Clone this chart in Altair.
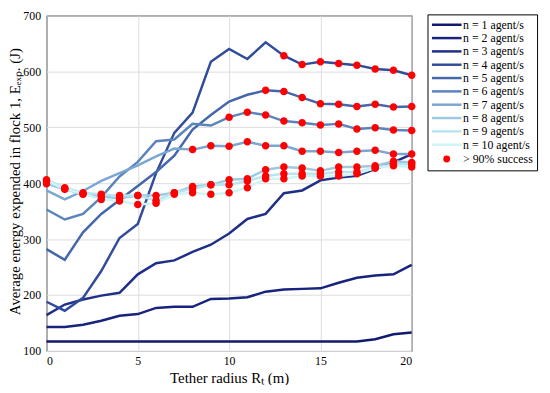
import altair as alt
import pandas as pd

FONT = "Liberation Serif"

radius = [0, 1, 2, 3, 4, 5, 6, 7, 8, 9, 10, 11, 12, 13, 14, 15, 16, 17, 18, 19, 20]

series_names = ["n = 1 agent/s", "n = 2 agent/s", "n = 3 agent/s", "n = 4 agent/s",
                "n = 5 agent/s", "n = 6 agent/s", "n = 7 agent/s", "n = 8 agent/s",
                "n = 9 agent/s", "n = 10 agent/s"]

e_n1 = [117, 117, 117, 117, 117, 117, 117, 117, 117, 117, 117, 117, 117, 117, 117, 117, 117, 117, 121, 130, 133]
e_n2 = [143, 143, 147, 154, 163, 166, 177, 179, 179, 193, 194, 196, 206, 210, 211, 212, 222, 231, 235, 237, 254]
e_n3 = [164, 183, 192, 199, 204, 237, 257, 262, 277, 290, 310, 336, 345, 382, 387, 405, 410, 413, 425, 437, 452]
e_n4 = [188, 172, 195, 243, 302, 327, 418, 490, 526, 617, 640, 622, 652, 628, 612, 617, 614, 611, 604, 602, 593]
e_n5 = [282, 263, 312, 345, 370, 395, 420, 449, 496, 522, 546, 558, 566, 564, 553, 542, 541, 537, 541, 536, 537]
e_n6 = [353, 335, 345, 375, 412, 438, 475, 478, 506, 503, 518, 527, 522, 511, 508, 504, 506, 497, 499, 495, 494]
e_n7 = [387, 371, 386, 404, 418, 432, 448, 462, 460, 467, 466, 474, 467, 467, 457, 457, 455, 457, 459, 452, 452]
e_n8 = [399, 389, 380, 376, 373, 378, 378, 383, 394, 397, 406, 408, 424, 429, 427, 422, 429, 429, 431, 439, 437]
e_n9 = [406, 392, 383, 380, 378, 378, 369, 383, 390, 397, 397, 404, 413, 417, 417, 417, 420, 420, 427, 434, 434]
e_n10 = [404, 390, 381, 371, 368, 362, 364, 380, 383, 380, 383, 392, 408, 408, 413, 413, 413, 417, 427, 431, 429]

energy = [e_n1, e_n2, e_n3, e_n4, e_n5, e_n6, e_n7, e_n8, e_n9, e_n10]

# first tether radius index at which success rate exceeds 90% (None = never)
success_from = [None, None, None, 13, 12, 10, 8, 0, 0, 0]

dot_label = "> 90% success"

line_colors = ["#111a6e", "#17237c", "#1f2f88", "#314c9a", "#4466aa", "#5b84bd",
               "#7ba6d2", "#9dcae3", "#b8e5ef", "#cdf5f7"]
dot_color = "#ff0000"

line_rows = []
dot_rows = []
for name, vals, start in zip(series_names, energy, success_from):
    for r, v in zip(radius, vals):
        line_rows.append({"R": r, "E": v, "series": name})
        if start is not None and r >= start:
            dot_rows.append({"R": r, "E": v, "series": dot_label})

lines_df = pd.DataFrame(line_rows)
dots_df = pd.DataFrame(dot_rows)

domain = series_names + [dot_label]
color_scale = alt.Scale(domain=domain, range=line_colors + [dot_color])
line_path = "M-3,0H3"
dot_path = "M0.45,0A0.45,0.45,0,1,1,-0.45,0A0.45,0.45,0,1,1,0.45,0Z"
shape_scale = alt.Scale(domain=domain, range=[line_path] * 10 + [dot_path])

legend = alt.Legend(
    title=None, orient="none", legendX=386, legendY=-1,
    strokeColor="black", fillColor="white", padding=4, cornerRadius=0,
    labelFont=FONT, labelFontSize=12, labelColor="black",
    symbolSize=100, symbolStrokeWidth=2.5, rowPadding=0.5,
    symbolOffset=9, labelOffset=10, symbolOpacity=1,
)

x_enc = alt.X(
    "R:Q",
    scale=alt.Scale(domain=[0, 20], nice=False, zero=False),
    axis=alt.Axis(values=[0, 5, 10, 15, 20], title="Tether radius Rₜ (m)",
                  titleX=185, titleY=32, titleBaseline="alphabetic",
                  labelPadding=5, format="d"),
)
y_enc = alt.Y(
    "E:Q",
    scale=alt.Scale(domain=[100, 700], nice=False, zero=False),
    axis=alt.Axis(values=[100, 200, 300, 400, 500, 600, 700],
                  title="Average energy expended in flock 1, Eₑₓₚ. (J)",
                  titleX=-27, titleY=168, titleBaseline="alphabetic",
                  labelPadding=6, format="d"),
)

lines = alt.Chart(lines_df).mark_line(strokeWidth=2.5).encode(
    x=x_enc, y=y_enc,
    color=alt.Color("series:N", scale=color_scale, legend=legend),
    detail="series:N",
)

dots = alt.Chart(dots_df).mark_point(filled=True, size=285, opacity=1).encode(
    x="R:Q", y="E:Q",
    color=alt.Color("series:N", scale=color_scale, legend=legend),
    shape=alt.Shape("series:N", scale=shape_scale, legend=legend),
)

chart = alt.layer(lines, dots).properties(
    width=370, height=340,
    autosize=alt.AutoSizeParams(type="none"),
    padding={"left": 39, "top": 5, "right": 132, "bottom": 32},
).configure_view(
    stroke="black", strokeWidth=1,
).configure_axis(
    domain=False, ticks=False, grid=True, gridColor="#dcdcdc", gridWidth=1,
    labelFont=FONT, labelFontSize=12, labelColor="black",
    titleFont=FONT, titleFontSize=15, titleFontWeight="normal", titleColor="black",
)

chart.save("out.html", embed_options={"renderer": "svg", "actions": False})
